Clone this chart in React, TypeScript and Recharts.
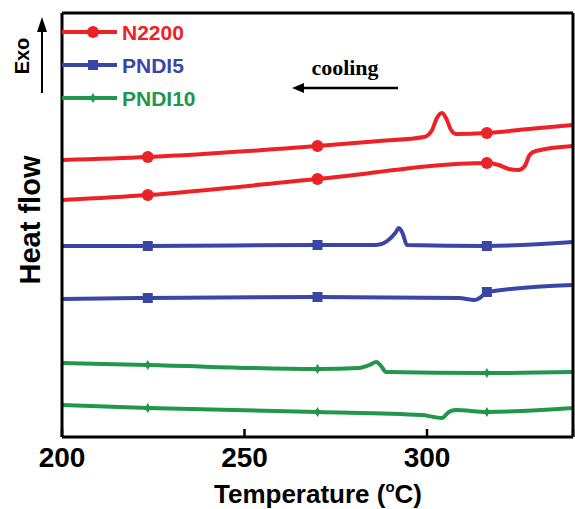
import { LineChart, Line, XAxis, YAxis } from "recharts";

// temperature (°C) and heat flow (a.u.)
const n2200CoolT = [200, 223.5, 270, 287, 299.2, 301.4, 302.7, 304.1, 305.2, 306.6, 307.9, 316.4, 327.9, 340];
const n2200CoolV = [277, 280, 291, 296, 300, 307, 319, 324, 319, 307, 303, 304, 308, 312];

const n2200HeatT = [200, 223.5, 270, 316.4, 319.7, 322.4, 325.1, 326.8, 328.1, 329.8, 340];
const n2200HeatV = [237, 242, 258, 274, 272, 268, 267, 271, 282, 286, 291];

const pndi5CoolT = [200, 223.5, 270, 286.1, 289.1, 291.3, 292.3, 293.4, 294.5, 316.4, 340];
const pndi5CoolV = [191, 191, 192, 192, 196, 204, 209, 203, 192, 191, 195];

const pndi5HeatT = [200, 223.5, 270, 308.7, 313.1, 314.8, 316.4, 340];
const pndi5HeatV = [138, 139, 140, 139, 137, 140, 145, 152];

const pndi10CoolT = [200, 223.5, 270, 281.4, 284.2, 286.1, 287.4, 288.8, 316.4, 340];
const pndi10CoolV = [74, 72, 68, 69, 72, 75, 71, 65, 64, 65];

const pndi10HeatT = [200, 223.5, 270, 298.6, 301.9, 304.1, 306, 307.9, 316.4, 340];
const pndi10HeatV = [32, 29, 25, 22, 20, 19, 25, 27, 25, 29];

const markerTemps = [223.5, 270, 316.4];
const xTicks = [200, 250, 300, 340];
const xTickLabels = ["200", "250", "300", ""];

const RED = "#ec2227";
const BLUE = "#3a46a6";
const GREEN = "#22964a";

const toRows = (t: number[], v: number[]) => t.map((temp, i) => ({ temp, hf: v[i] }));

const isMarker = (t: number) => markerTemps.some((m) => Math.abs(m - t) < 0.01);

const circleDot = (props: any) => {
  const { cx, cy, payload, index } = props;
  if (!isMarker(payload.temp)) return <g key={index} />;
  return <circle key={index} cx={cx} cy={cy} r={6} fill={RED} />;
};
const squareDot = (props: any) => {
  const { cx, cy, payload, index } = props;
  if (!isMarker(payload.temp)) return <g key={index} />;
  return <rect key={index} x={cx - 5} y={cy - 5} width={10} height={10} fill={BLUE} />;
};
const diamondDot = (props: any) => {
  const { cx, cy, payload, index } = props;
  if (!isMarker(payload.temp)) return <g key={index} />;
  return (
    <path key={index} d={`M${cx},${cy - 5} L${cx + 3},${cy} L${cx},${cy + 5} L${cx - 3},${cy} Z`} fill={GREEN} />
  );
};

const legendItems = [
  { name: "N2200", color: RED, shape: "circle" },
  { name: "PNDI5", color: BLUE, shape: "square" },
  { name: "PNDI10", color: GREEN, shape: "diamond" },
];

const sans = "Liberation Sans, Arial, sans-serif";
const tickFont = { fontFamily: sans, fontWeight: "bold", fontSize: 28, fill: "#000" };
const frame = { stroke: "#000", strokeWidth: 3 };

export default function App() {
  const series = [
    { data: toRows(n2200CoolT, n2200CoolV), color: RED, dot: circleDot, name: "N2200" },
    { data: toRows(n2200HeatT, n2200HeatV), color: RED, dot: circleDot, name: "N2200 heat" },
    { data: toRows(pndi5CoolT, pndi5CoolV), color: BLUE, dot: squareDot, name: "PNDI5" },
    { data: toRows(pndi5HeatT, pndi5HeatV), color: BLUE, dot: squareDot, name: "PNDI5 heat" },
    { data: toRows(pndi10CoolT, pndi10CoolV), color: GREEN, dot: diamondDot, name: "PNDI10" },
    { data: toRows(pndi10HeatT, pndi10HeatV), color: GREEN, dot: diamondDot, name: "PNDI10 heat" },
  ];

  return (
    <div style={{ position: "absolute", left: 0, top: 0, width: 575, height: 509, background: "#fff" }}>
      <LineChart width={575} height={509} margin={{ top: 12, right: 1, left: 61, bottom: 12 }}>
        <XAxis
          xAxisId="bottom"
          dataKey="temp"
          type="number"
          domain={[200, 340]}
          ticks={xTicks}
          tickFormatter={(v: number) => xTickLabels[xTicks.indexOf(v)]}
          height={60}
          tickSize={-8}
          tickMargin={18}
          axisLine={frame}
          tickLine={{ stroke: "#000", strokeWidth: 2.5 }}
          tick={tickFont}
          allowDataOverflow
        />
        <XAxis
          xAxisId="top"
          orientation="top"
          dataKey="temp"
          type="number"
          domain={[200, 340]}
          height={1}
          tick={false}
          tickLine={false}
          axisLine={frame}
        />
        <YAxis
          yAxisId="left"
          type="number"
          domain={[0, 424]}
          width={1}
          tick={false}
          tickLine={false}
          axisLine={frame}
        />
        <YAxis
          yAxisId="right"
          orientation="right"
          type="number"
          domain={[0, 424]}
          width={1}
          tick={false}
          tickLine={false}
          axisLine={frame}
        />
        {series.map((s) => (
          <Line
            key={s.name}
            xAxisId="bottom"
            yAxisId="left"
            data={s.data}
            dataKey="hf"
            name={s.name}
            type="monotone"
            stroke={s.color}
            strokeWidth={4}
            dot={s.dot}
            activeDot={false}
            isAnimationActive={false}
          />
        ))}
      </LineChart>
      <svg
        width={575}
        height={509}
        style={{ position: "absolute", left: 0, top: 0, pointerEvents: "none" }}
      >
        {legendItems.map((it, i) => {
          const y = 32 + i * 33;
          return (
            <g key={it.name}>
              <line x1={62} x2={117} y1={y} y2={y} stroke={it.color} strokeWidth={4} />
              {it.shape === "circle" && <circle cx={93} cy={y} r={6} fill={it.color} />}
              {it.shape === "square" && <rect x={88} y={y - 5} width={10} height={10} fill={it.color} />}
              {it.shape === "diamond" && (
                <path d={`M93,${y - 5} L96,${y} L93,${y + 5} L90,${y} Z`} fill={it.color} />
              )}
              <text x={122} y={y + 7.5} fill={it.color} fontFamily={sans} fontWeight="bold" fontSize={21}>
                {it.name}
              </text>
            </g>
          );
        })}
        <text
          x={0}
          y={0}
          transform="translate(40,220) rotate(-90)"
          textAnchor="middle"
          fontFamily={sans}
          fontWeight="bold"
          fontSize={29}
          fill="#000"
        >
          Heat flow
        </text>
        <text
          x={0}
          y={0}
          transform="translate(29,56) rotate(-90)"
          textAnchor="middle"
          fontFamily={sans}
          fontWeight="bold"
          fontSize={20}
          fill="#000"
        >
          Exo
        </text>
        <line x1={42} x2={42} y1={93} y2={28} stroke="#000" strokeWidth={2} />
        <path d="M42,17 L47,32 L37,32 Z" fill="#000" />
        <text
          x={345}
          y={75}
          textAnchor="middle"
          fontFamily="Liberation Serif, Times New Roman, serif"
          fontWeight="bold"
          fontSize={22}
          fill="#000"
        >
          cooling
        </text>
        <line x1={300} x2={398} y1={88} y2={88} stroke="#000" strokeWidth={2.5} />
        <path d="M292,88 L304,83 L304,93 Z" fill="#000" />
        <text
          x={318}
          y={503}
          textAnchor="middle"
          fontFamily={sans}
          fontWeight="bold"
          fontSize={26}
          fill="#000"
        >
          Temperature (
          <tspan fontSize={15} dy={-11}>o</tspan>
          <tspan dy={11}>C)</tspan>
        </text>
      </svg>
    </div>
  );
}
